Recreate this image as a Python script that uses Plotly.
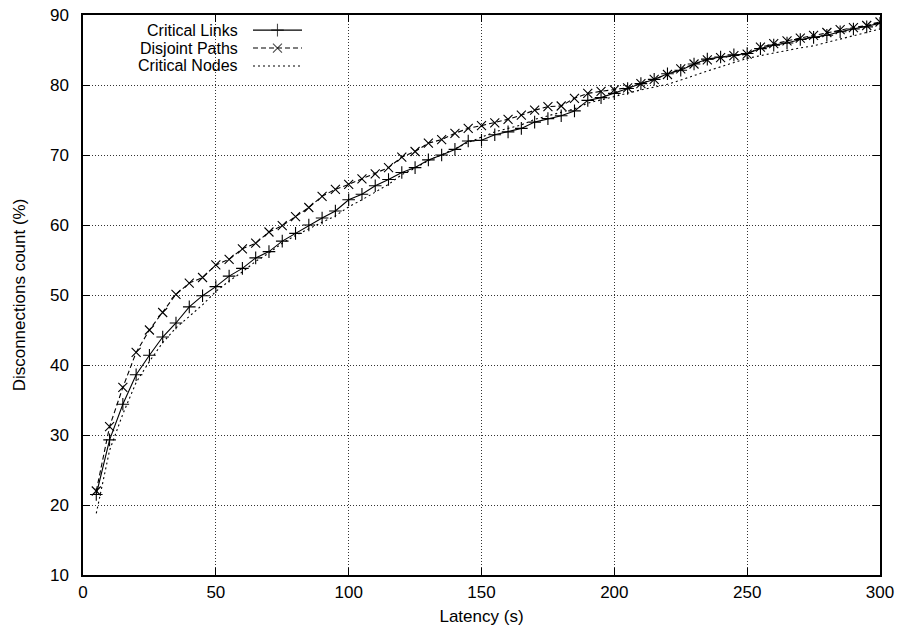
import plotly.graph_objects as go

latency = list(range(5, 305, 5))

critical_links = [21.5, 29.3, 34.4, 38.6, 41.4, 44.0, 46.0, 48.3, 49.9, 51.2,
                  52.7, 53.8, 55.3, 56.2, 57.7, 58.8, 60.0, 61.0, 62.0, 63.6,
                  64.4, 65.6, 66.5, 67.5, 68.2, 69.3, 70.0, 70.8, 72.0, 72.1,
                  72.9, 73.3, 73.8, 74.7, 75.2, 75.6, 76.3, 77.8, 78.2, 78.8,
                  79.5, 80.2, 80.8, 81.6, 82.1, 83.0, 83.7, 84.0, 84.3, 84.5,
                  85.2, 85.7, 86.0, 86.5, 86.8, 87.1, 87.6, 88.0, 88.3, 88.8]

disjoint_paths = [22.0, 31.2, 36.8, 41.8, 45.0, 47.5, 50.1, 51.7, 52.5, 54.3,
                  55.1, 56.6, 57.4, 59.0, 59.9, 61.2, 62.5, 64.1, 65.1, 65.8,
                  66.6, 67.3, 68.2, 69.7, 70.5, 71.7, 72.2, 73.1, 73.8, 74.2,
                  74.6, 75.1, 75.7, 76.4, 76.9, 77.0, 78.1, 78.8, 79.1, 79.3,
                  79.6, 80.2, 80.8, 81.5, 82.3, 83.0, 83.6, 83.9, 84.2, 84.4,
                  85.4, 85.9, 86.3, 86.7, 87.1, 87.5, 87.9, 88.2, 88.5, 89.0]

critical_nodes = [18.8, 27.8, 33.0, 37.5, 40.5, 43.2, 45.3, 47.0, 48.6, 50.5,
                  52.0, 53.3, 54.8, 56.0, 57.4, 58.5, 59.5, 60.4, 61.3, 62.6,
                  63.6, 64.7, 65.8, 67.2, 68.1, 69.2, 70.0, 70.9, 71.8, 72.6,
                  73.3, 73.8, 74.3, 75.1, 75.6, 76.0, 76.6, 77.4, 77.9, 78.4,
                  78.8, 79.3, 79.7, 80.1, 80.7, 81.4, 82.0, 82.6, 83.2, 83.8,
                  84.2, 84.6, 85.0, 85.3, 85.6, 86.1, 86.6, 87.1, 87.5, 88.0]

x_ticks = [0, 50, 100, 150, 200, 250, 300]
y_ticks = [10, 20, 30, 40, 50, 60, 70, 80, 90]

series_names = ["Critical Links", "Disjoint Paths", "Critical Nodes"]

FONT = "Liberation Sans, Arial, Helvetica, sans-serif"
FS = 17
KEY_FS = 16

styles = [
    dict(dash="solid", symbol="cross-thin", size=9),
    dict(dash="5px,3px", symbol="x-thin", size=9),
    dict(dash="2px,3px", symbol=None, size=0),
]

fig = go.Figure()
for name, ys, st in zip(series_names, [critical_links, disjoint_paths, critical_nodes], styles):
    mode = "lines+markers" if st["symbol"] else "lines"
    marker = dict(symbol=st["symbol"], size=st["size"], color="black",
                  line=dict(color="black", width=1.1)) if st["symbol"] else None
    fig.add_trace(go.Scatter(x=latency, y=ys, mode=mode, name=name,
                             line=dict(color="black", width=1.1, dash=st["dash"]),
                             marker=marker, showlegend=False))

# gnuplot-style key: right-aligned text with a line sample to its right
key_rows = [0.9730, 0.9410, 0.9090]
key_x = [0.2133, 0.244, 0.2748]
for name, st, ky in zip(series_names, styles, key_rows):
    fig.add_annotation(xref="paper", yref="paper", x=0.1957, y=ky, text=name,
                       showarrow=False, xanchor="right", yanchor="middle",
                       borderpad=0,
                       font=dict(family=FONT, size=KEY_FS, color="black"))
    if st["symbol"]:
        fig.add_trace(go.Scatter(x=key_x, y=[ky] * 3, xaxis="x2", yaxis="y2",
                                 mode="lines+markers",
                                 marker=dict(symbol=st["symbol"], size=[0, st["size"], 0],
                                             color="black", line=dict(color="black", width=1.1)),
                                 line=dict(color="black", width=1.1, dash=st["dash"]),
                                 showlegend=False, hoverinfo="skip"))
    else:
        fig.add_trace(go.Scatter(x=[key_x[0], key_x[2]], y=[ky] * 2, xaxis="x2", yaxis="y2",
                                 mode="lines",
                                 line=dict(color="black", width=1.1, dash=st["dash"]),
                                 showlegend=False, hoverinfo="skip"))

axis_common = dict(
    showline=True, linecolor="black", linewidth=1.5, mirror="ticks",
    ticks="inside", ticklen=7, tickcolor="black", tickwidth=1,
    showgrid=True, gridcolor="#333", gridwidth=1, griddash="1px,2px",
    zeroline=False, automargin=False,
    tickfont=dict(family=FONT, size=FS, color="black"),
)

fig.update_layout(
    template="none",
    width=898, height=631,
    margin=dict(l=83, r=18, t=15, b=56),
    paper_bgcolor="white", plot_bgcolor="white",
    font=dict(family=FONT, size=FS, color="black"),
    xaxis=dict(range=[0, 300], tickvals=x_ticks, ticklabelstandoff=1,
               title=dict(text="Latency (s)", standoff=9,
                          font=dict(family=FONT, size=FS)),
               **axis_common),
    yaxis=dict(range=[10, 90], tickvals=y_ticks, ticklabelstandoff=9,
               title=dict(text="Disconnections count (%)", standoff=20,
                          font=dict(family=FONT, size=FS)),
               **axis_common),
    xaxis2=dict(domain=[0, 1], range=[0, 1], overlaying="x", visible=False),
    yaxis2=dict(domain=[0, 1], range=[0, 1], overlaying="y", visible=False),
)

fig.write_html("out.html", config={"displayModeBar": False},
               post_script="document.body.style.margin='0';")
